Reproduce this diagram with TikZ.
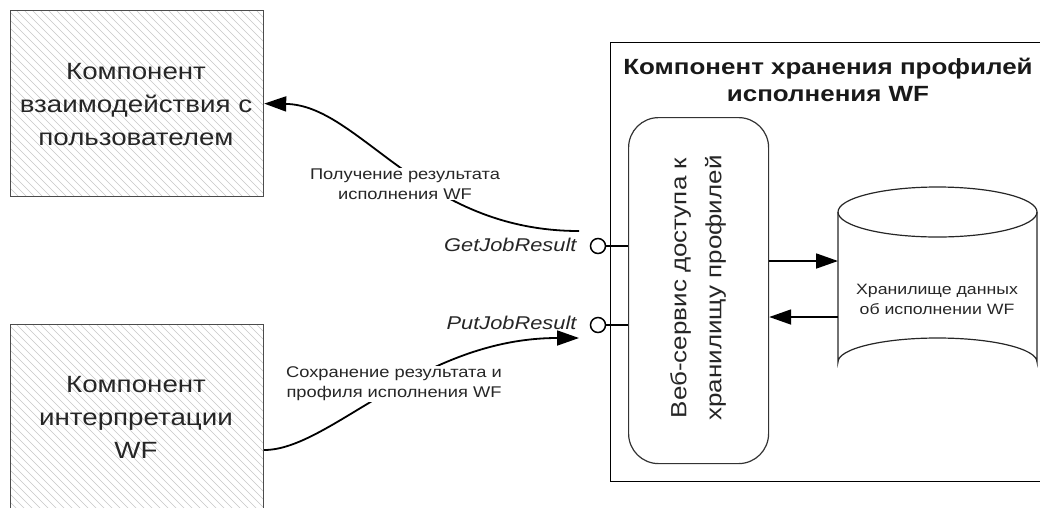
\documentclass[tikz,border=0pt]{standalone}
\usepackage{fontspec}
\setmainfont[FakeStretch=1.18]{Liberation Sans}
\usetikzlibrary{arrows.meta}
\begin{document}
\begin{tikzpicture}[x=1pt,y=-1pt,
  hatchbox/.style={draw=black!70, line width=1.2pt, minimum width=253pt, anchor=north west, inner sep=0pt},
  bigtext/.style={font=\fontsize{23.5}{33}\selectfont, align=center, text=black!85},
  lbl/.style={font=\fontsize{15.5}{20}\selectfont, align=center, fill=white, inner sep=1pt, text=black!85},
  iface/.style={font=\itshape\fontsize{18.5}{20}\selectfont, anchor=east, text=black!85},
  lolli/.style={circle, draw, line width=1.5pt, minimum size=15pt, inner sep=0pt},
  conn/.style={line width=1.8pt, -{Triangle[length=22pt,width=15pt]}},
  hatch/.style={black!22, line width=0.6pt}]
\useasboundingbox (0,0) rectangle (1040,507);

% hatching
\begin{scope}
  \clip (10,10) rectangle (263,196);
  \foreach \i in {-200,-192,...,270} \draw[hatch] (\i,10) -- ++(200,200);
\end{scope}
\begin{scope}
  \clip (10,324) rectangle (263,520);
  \foreach \i in {-200,-192,...,270} \draw[hatch] (\i,324) -- ++(200,200);
\end{scope}

\node[hatchbox, minimum height=186pt] (ui) at (10,10) {};
\node[hatchbox, minimum height=200pt] (interp) at (10,324) {};
\node[bigtext] (uit) at (136,105) {Компонент\\взаимодействия с\\пользователем};
\node[bigtext] (intt) at (136,417) {Компонент\\интерпретации\\WF};

% storage component
\node[draw, line width=1.2pt, minimum width=440pt, minimum height=439pt, anchor=north west, inner sep=0pt] (store) at (610,42) {};
\node[font=\bfseries\fontsize{22}{27}\selectfont, align=center, text=black!90] (storet) at (828,80) {Компонент хранения профилей\\исполнения WF};

\node[draw=black!80, line width=1.2pt, rounded corners=30pt, minimum width=140pt, minimum height=346pt, anchor=north west, inner sep=0pt] (ws) at (628,117) {};
\node[rotate=90, font=\fontsize{22}{35}\selectfont, align=center, text=black!85] (wst) at (698,288) {Веб-сервис доступа к\\хранилищу профилей};

% database cylinder
\node[minimum width=199pt, minimum height=198pt, anchor=north west, inner sep=0pt] (db) at (838,187) {};
\draw[line width=1.2pt, black!85] (838,212) -- (838,362) arc[start angle=180, end angle=0, x radius=99.5pt, y radius=24pt] -- (1037,212);
\draw[line width=1.2pt, black!85] (937.5,212) ellipse[x radius=99.5pt, y radius=25pt];
\node[font=\fontsize{15}{20}\selectfont, align=center, text=black!85] (dbt) at (937,299) {Хранилище данных\\об исполнении WF};

\coordinate (r1) at (0,261);
\coordinate (r2) at (0,317);
\draw[conn] (ws.east |- r1) -- (db.west |- r1);
\draw[conn] (db.west |- r2) -- (ws.east |- r2);

% interfaces
\node[lolli] (get) at (598,246) {};
\node[lolli] (put) at (598,325) {};
\draw[line width=1.2pt] (get) -- (get -| ws.west);
\draw[line width=1.2pt] (put) -- (put -| ws.west);
\node[iface] (gett) at (580,245) {GetJobResult};
\node[iface] (putt) at (580,323) {PutJobResult};

% connectors
\coordinate (gs) at (579,231);
\coordinate (pe) at (579,338);
\draw[conn] (gs) .. controls (420,231) and (360,105) .. (ui.east);
\node[lbl] (gl) at (405,184) {Получение результата\\исполнения WF};
\draw[conn] (interp.east |- 0,450) .. controls (330,450) and (420,338) .. (pe);
\node[lbl] (pl) at (394,384) {Сохранение результата и\\профиля исполнения WF};
\end{tikzpicture}
\end{document}
